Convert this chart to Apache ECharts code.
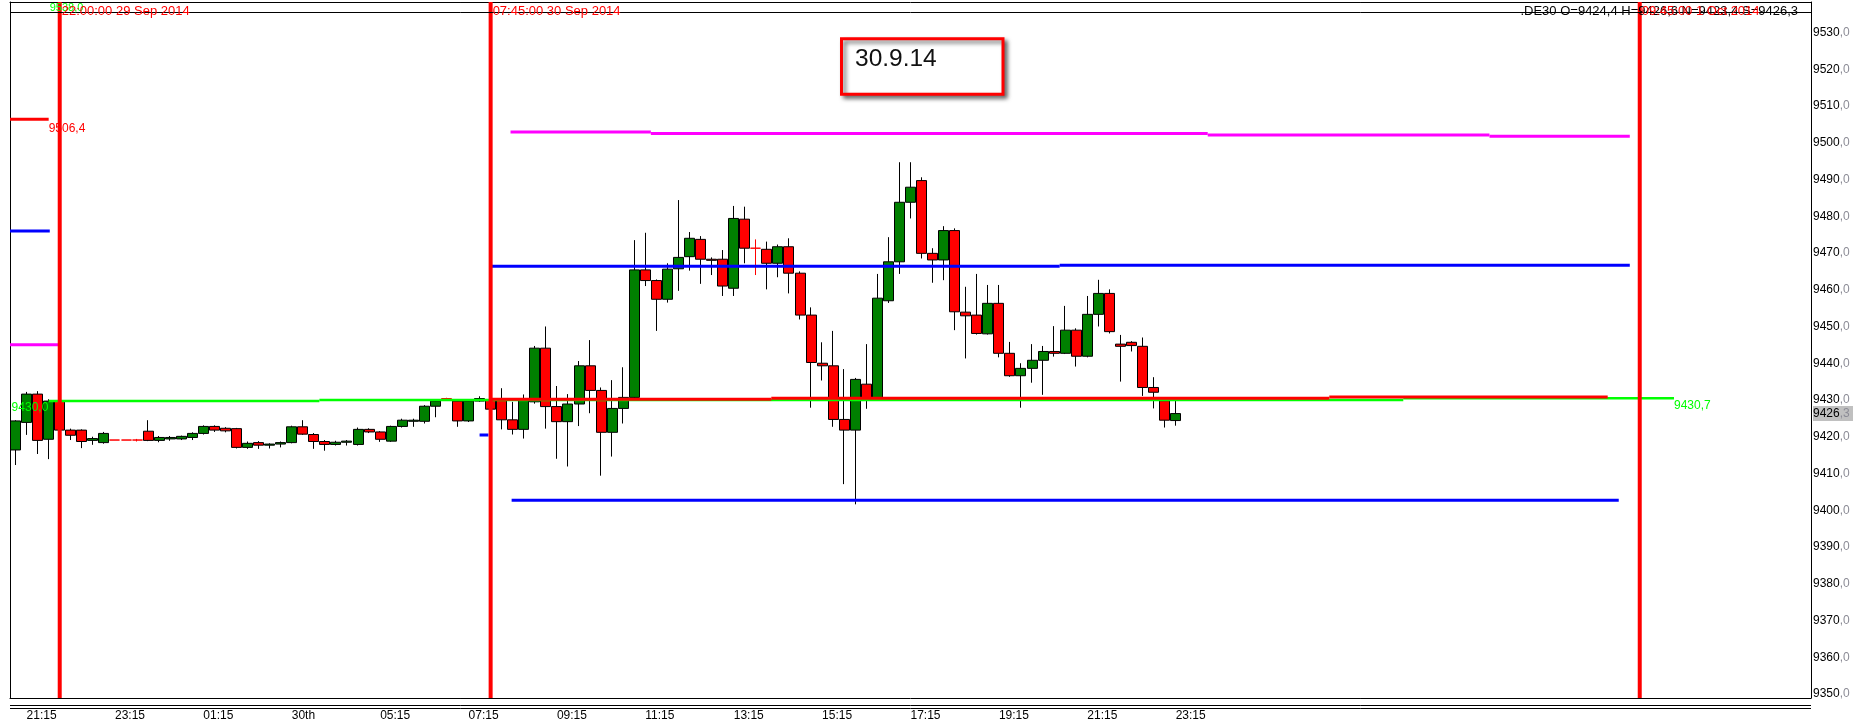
<!DOCTYPE html>
<html><head><meta charset="utf-8">
<script src="https://cdn.jsdelivr.net/npm/echarts@6/dist/echarts.min.js"></script>
<style>html,body{margin:0;padding:0;background:#fff;overflow:hidden}#c{width:1857px;height:726px}</style>
</head><body><div id="c"></div>
<script>
// ---------- DATA ----------
const FONT = "'Liberation Sans', Arial, sans-serif";
const BAR_COUNT = 163;            // 15-minute slots shown on the time axis
const FIRST_BAR_MINUTES = 21 * 60; // 21:00, 29 Sep 2014

// tick labels on the time axis (bar index -> text)
const xTickIndex  = [1, 9, 17, 25, 33, 41, 49, 57, 65, 73, 81, 89, 97, 105];
const xTickLabels = ['21:15','23:15','01:15','30th','05:15','07:15','09:15','11:15','13:15','15:15','17:15','19:15','21:15','23:15'];

// price axis ticks
const yTickValues = [9350,9360,9370,9380,9390,9400,9410,9420,9430,9440,9450,9460,9470,9480,9490,9500,9510,9520,9530];
const Y_MIN = 9348.9, Y_MAX = 9538.3;

// candles [open, close, low, high]  21:00 29 Sep .. 07:30 30 Sep
const ohlcNight = [
 [9416.4,9424.3,9412.3,9424.5],[9423.9,9431.6,9420.5,9432.2],[9431.6,9419.0,9415.3,9432.4],[9419.3,9429.7,9413.9,9430.2],
 [9429.7,9421.8,9421.3,9430.5],[9421.8,9420.4,9419.1,9422.2],[9421.8,9418.7,9416.9,9422.0],[9419.0,9419.5,9417.8,9420.0],
 [9418.4,9420.9,9418.1,9421.3],[9419.1,9419.1,9419.1,9419.1],[9419.1,9419.1,9419.1,9419.1],[9419.1,9419.1,9418.7,9419.4],
 [9421.5,9419.0,9418.8,9424.5],[9419.0,9419.8,9418.5,9420.2],[9419.4,9419.8,9418.9,9420.2],[9419.4,9420.1,9419.1,9420.3],
 [9419.8,9420.9,9419.1,9421.2],[9420.9,9422.8,9420.6,9423.1],[9422.8,9421.8,9421.3,9423.1],[9422.3,9421.6,9421.2,9422.6],
 [9422.2,9417.1,9416.8,9422.4],[9417.1,9418.2,9416.7,9418.7],[9418.4,9417.7,9416.7,9418.8],[9417.7,9418.0,9416.8,9418.2],
 [9418.0,9418.4,9417.1,9418.7],[9418.4,9422.7,9418.2,9423.0],[9422.7,9420.7,9420.5,9424.5],[9420.6,9418.7,9416.7,9421.0],
 [9418.7,9417.9,9416.2,9419.1],[9417.9,9418.5,9417.6,9418.9],[9418.5,9418.8,9417.6,9419.1],[9417.9,9422.0,9417.6,9422.5],
 [9422.0,9421.3,9421.0,9422.3],[9421.3,9419.3,9418.6,9421.5],[9418.8,9422.8,9418.6,9423.0],[9422.8,9424.5,9422.5,9424.9],
 [9424.2,9424.5,9422.7,9424.9],[9424.2,9428.3,9423.6,9428.6],[9428.3,9429.7,9425.3,9430.2],[9430.4,9430.4,9430.2,9430.6],
 [9429.7,9424.3,9422.7,9430.0],[9424.3,9429.7,9424.0,9430.0],[9429.7,9430.4,9429.5,9431.0]
];
// candles 07:45 .. 23:15 30 Sep
const ohlcDay = [
 [9430.0,9427.5,9427.0,9431.0],[9430.0,9424.6,9422.0,9433.2],[9424.6,9422.0,9420.6,9429.5],[9422.0,9430.0,9419.5,9431.5],
 [9429.5,9444.1,9429.0,9444.7],[9444.1,9428.2,9422.2,9450.0],[9428.2,9424.1,9414.0,9433.8],[9424.1,9428.9,9411.9,9431.6],
 [9428.9,9439.3,9422.9,9440.6],[9439.3,9432.6,9426.4,9446.3],[9432.6,9421.2,9409.4,9433.4],[9421.2,9427.7,9414.6,9435.4],
 [9427.7,9430.7,9423.6,9438.9],[9430.7,9465.4,9430.3,9473.5],[9465.4,9462.5,9461.0,9475.5],[9462.5,9457.4,9448.8,9462.8],
 [9457.4,9465.6,9456.5,9467.2],[9465.7,9468.8,9459.7,9484.4],[9469.0,9474.0,9465.2,9475.7],[9473.7,9468.3,9461.6,9474.6],
 [9468.3,9468.0,9464.0,9468.8],[9468.3,9461.0,9458.3,9470.8],[9460.4,9479.4,9458.3,9482.8],[9479.2,9471.3,9467.2,9482.6],
 [9471.3,9471.3,9464.0,9473.7],[9471.0,9467.2,9460.1,9473.1],[9467.2,9471.7,9463.4,9472.3],[9471.7,9464.5,9459.0,9474.0],
 [9464.5,9453.1,9451.9,9465.0],[9453.1,9440.2,9427.9,9455.2],[9440.0,9439.3,9435.3,9445.7],[9439.3,9424.7,9422.7,9448.8],
 [9424.7,9421.8,9407.1,9438.4],[9421.8,9435.6,9401.6,9436.0],[9434.3,9430.5,9427.6,9445.2],[9430.5,9457.7,9430.0,9464.3],
 [9457.0,9467.6,9456.4,9474.3],[9467.6,9483.8,9464.3,9494.7],[9483.8,9487.9,9479.4,9494.7],[9489.7,9469.9,9468.5,9490.6],
 [9469.9,9468.1,9461.9,9471.3],[9468.1,9476.1,9462.6,9477.3],[9476.1,9454.0,9449.0,9476.7],[9453.9,9452.9,9441.3,9460.8],
 [9453.1,9448.1,9447.8,9464.3],[9448.0,9456.3,9447.8,9461.3],[9456.3,9442.7,9441.6,9461.3],[9442.7,9436.6,9436.3,9445.8],
 [9436.6,9438.6,9427.9,9440.0],[9438.6,9440.8,9434.7,9445.2],[9440.8,9443.2,9431.4,9444.7],[9443.2,9442.7,9441.8,9450.1],
 [9442.7,9449.0,9442.5,9455.6],[9449.0,9441.9,9439.1,9449.5],[9441.9,9453.3,9441.6,9458.3],[9453.3,9459.0,9450.0,9462.7],
 [9459.0,9448.6,9448.1,9460.1],[9445.2,9444.6,9435.0,9447.7],[9445.7,9444.8,9443.2,9446.0],[9444.6,9433.4,9431.1,9447.0],
 [9433.4,9432.1,9427.7,9436.2],[9429.8,9424.5,9422.5,9430.5],[9424.4,9426.3,9423.0,9429.8]
];

// horizontal level segments: [fromBar, toBar, price]
const redShortSegs     = [[-0.5, 3.0, 9506.4]];
const blueShortSegs    = [[-0.5, 3.1, 9476.0]];
const magentaShortSegs = [[-0.5, 3.9, 9445.0]];
const greenSegs   = [[3.0, 27.5, 9429.7],[27.5, 125.6, 9430.0],[125.6, 150.1, 9430.46]];
const redSegs     = [[43.0, 68.4, 9430.2],[68.4, 118.9, 9430.46],[118.9, 144.1, 9430.8]];
const blueUpSegs  = [[43.0, 94.5, 9466.4],[94.5, 146.1, 9466.65]];
const blueLowSegs = [[44.9, 145.1, 9402.7],[42.0, 42.8, 9420.5]];
const magentaSegs = [[44.8, 57.5, 9502.9],[57.5, 107.9, 9502.5],[107.9, 133.4, 9502.1],[133.4, 146.1, 9501.8]];
// vertical session lines at bar index
const vLineBars  = [4, 43, 147];
const vLineTexts = ['22:00:00 29 Sep 2014', '07:45:00 30 Sep 2014', '09:45:00 1 Oct 2014'];
const lastPrice = 9426.3;
const headerText = '.DE30 O=9424,4 H=9426,6 N=9423,4 S=9426,3';

// ---------- BUILD ----------
const categories = [];
for (let i = 0; i < BAR_COUNT; i++) {
  const m = (FIRST_BAR_MINUTES + i * 15) % 1440;
  categories.push(String(Math.floor(m / 60)).padStart(2, '0') + ':' + String(m % 60).padStart(2, '0'));
}
const candles = ohlcNight.concat(ohlcDay);
const tickMap = {};
xTickIndex.forEach((k, j) => tickMap[k] = xTickLabels[j]);

function segSeries(segs, color, width, z) {
  return segs.map(s => ({
    type: 'line', xAxisIndex: 1, yAxisIndex: 0, silent: true, animation: false,
    symbol: 'none', z: z,
    lineStyle: { color: color, width: width },
    data: [[s[0], s[2]], [s[1], s[2]]]
  }));
}

const series = [{
  type: 'candlestick', xAxisIndex: 0, yAxisIndex: 0, z: 2, barWidth: 10.5,
  data: candles,
  itemStyle: {
    color: '#008000', color0: '#ff0000',
    borderColor: '#000000', borderColor0: '#000000', borderColorDoji: '#ff0000',
    borderWidth: 1
  }
}];
series.push(...segSeries(magentaShortSegs, '#ff00ff', 3, 3));
series.push(...segSeries(blueShortSegs, '#0000ff', 3, 3));
series.push(...segSeries(redShortSegs, '#ff0000', 3, 3));
series.push(...segSeries(greenSegs, '#00ff00', 2.5, 3));
series.push(...segSeries(redSegs, '#ff0000', 3, 4));
series.push(...segSeries(blueUpSegs, '#0000ff', 3, 4));
series.push(...segSeries(blueLowSegs, '#0000ff', 3, 4));
series.push(...segSeries(magentaSegs, '#ff00ff', 3, 4));
vLineBars.forEach(b => series.push({
  type: 'line', xAxisIndex: 1, yAxisIndex: 0, silent: true, symbol: 'none', z: 6,
  lineStyle: { color: '#ff0000', width: 4 },
  data: [[b, Y_MIN], [b, Y_MAX]]
}));

const chart = echarts.init(document.getElementById('c'), null, { renderer: 'canvas' });
const option = {
  animation: false,
  backgroundColor: '#ffffff',
  grid: { left: 10, top: 2, width: 1801, height: 696, containLabel: false },
  xAxis: [{
    type: 'category', data: categories, boundaryGap: true, position: 'bottom',
    axisLine: { show: true, onZero: false, lineStyle: { color: '#000', width: 1 } },
    axisTick: { show: false }, splitLine: { show: false },
    axisLabel: {
      interval: (i) => tickMap[i] !== undefined,
      formatter: (v, i) => tickMap[i] || '',
      align: 'left', margin: 12, fontSize: 12, color: '#000', fontFamily: FONT
    }
  }, {
    type: 'value', min: -0.5, max: BAR_COUNT - 0.5, position: 'top',
    axisLine: { show: true, onZero: false, lineStyle: { color: '#000', width: 1 } },
    axisTick: { show: false }, axisLabel: { show: false }, splitLine: { show: false }
  }],
  yAxis: [{
    type: 'value', position: 'right', min: Y_MIN, max: Y_MAX,
    axisLine: { show: true, onZero: false, lineStyle: { color: '#000', width: 1 } },
    axisTick: { show: false }, splitLine: { show: false },
    axisLabel: {
      customValues: yTickValues, margin: 2,
      formatter: v => '{a|' + Math.round(v) + '}{b|,0}',
      rich: {
        a: { color: '#000', fontSize: 12, fontFamily: FONT },
        b: { color: '#8c8c96', fontSize: 12, fontFamily: FONT }
      }
    }
  }, {
    type: 'value', position: 'left', min: Y_MIN, max: Y_MAX,
    axisLine: { show: true, onZero: false, lineStyle: { color: '#000', width: 1 } },
    axisTick: { show: false }, axisLabel: { show: false }, splitLine: { show: false }
  }],
  series: series
};
chart.setOption(option);

// ---------- TEXT / DECORATION ----------
const P = (u, v) => chart.convertToPixel({ xAxisIndex: 1, yAxisIndex: 0 }, [u, v]);
const gLeft = P(-0.5, Y_MIN)[0], gRight = P(BAR_COUNT - 0.5, Y_MIN)[0];
const gBottom = P(0, Y_MIN)[1], gTop = P(0, Y_MAX)[1];
const g = [];
const txt = (x, y, text, color, extra) => g.push(Object.assign({
  type: 'text', x: x, y: y, z: 50, silent: true,
  style: Object.assign({ text: text, fill: color, font: '12px ' + FONT, textAlign: 'left', textVerticalAlign: 'middle' }, extra || {})
}));
// header separator line and bottom double line
g.push({ type: 'line', z: 40, silent: true, shape: { x1: gLeft, y1: gTop + 10.5, x2: gRight, y2: gTop + 10.5 }, style: { stroke: '#000', lineWidth: 1 } });
g.push({ type: 'line', z: 40, silent: true, shape: { x1: gLeft, y1: gBottom + 7.5, x2: gRight, y2: gBottom + 7.5 }, style: { stroke: '#000', lineWidth: 1 } });
g.push({ type: 'line', z: 40, silent: true, shape: { x1: gLeft, y1: gBottom + 10.5, x2: gRight, y2: gBottom + 10.5 }, style: { stroke: '#000', lineWidth: 1 } });
// clip under price scale
g.push({ type: 'rect', z: 45, silent: true, shape: { x: gRight + 1, y: gBottom + 1, width: 60, height: 40 }, style: { fill: '#fff' } });
// symbol header
txt(gRight - 13, gTop + 9, headerText, '#000', { textAlign: 'right', font: '13px ' + FONT });
txt(P(4, 0)[0] - 10, gTop + 6, '9538,0', '#00ff00', { font: '11px ' + FONT });
// vertical line time labels
vLineBars.forEach((b, k) => txt(P(b, 0)[0] + 2, gTop + 9, vLineTexts[k], '#ff0000', { font: '13px ' + FONT }));
// level labels
const pr = P(3.0, 9506.4); txt(pr[0], pr[1] + 9, '9506,4', '#ff0000');
const pg = P(-0.4, 9430.0); txt(pg[0] + 0.5, pg[1] + 8, '9430,0', '#00ff00');
const pg2 = P(150.1, 9430.46); txt(pg2[0], pg2[1] + 7, '9430,7', '#00ff00');
// last price tag
const pl = P(0, lastPrice)[1];
g.push({ type: 'rect', z: 48, silent: true, shape: { x: gRight + 2, y: pl - 7.5, width: 40, height: 15 }, style: { fill: '#c0c0c0' } });
g.push({ type: 'text', z: 49, silent: true, x: gRight + 2, y: pl,
  style: { rich: { a: { fill: '#000', font: '12px ' + FONT }, b: { fill: '#8c8c96', font: '12px ' + FONT } },
           text: '{a|9426}{b|,3}', textVerticalAlign: 'middle', textAlign: 'left' } });
// date annotation box
g.push({ type: 'rect', z: 52, silent: true, shape: { x: 841.5, y: 38.8, width: 161.5, height: 55.5 },
  style: { fill: '#fff', stroke: '#ff0000', lineWidth: 3, shadowBlur: 4, shadowOffsetX: 3, shadowOffsetY: 3, shadowColor: 'rgba(0,0,0,0.55)' } });
g.push({ type: 'text', z: 53, silent: true, x: 855, y: 59.5,
  style: { text: '30.9.14', fill: '#111', font: '24.5px ' + FONT, textVerticalAlign: 'middle' } });
chart.setOption({ graphic: g });
</script>
</body></html>
